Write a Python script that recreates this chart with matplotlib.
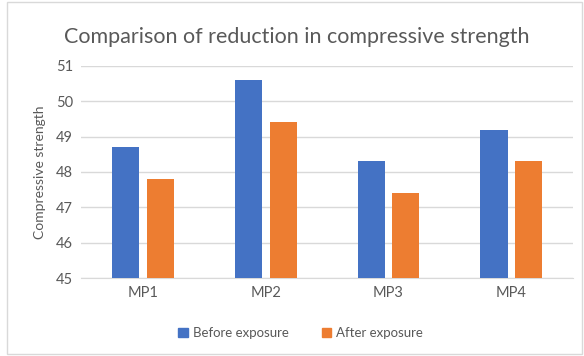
import numpy as np
import matplotlib
matplotlib.use("Agg")
import matplotlib.pyplot as plt
from matplotlib.patches import Rectangle, Patch

plt.rcParams['font.family'] = ['Lato', 'DejaVu Sans']

categories = ["MP1", "MP2", "MP3", "MP4"]
before = [48.7, 50.6, 48.3, 49.2]
after = [47.8, 49.4, 47.4, 48.3]
yticks = [45, 46, 47, 48, 49, 50, 51]

blue = "#4472C4"
orange = "#ED7D31"
grey = "#595959"

fig = plt.figure(figsize=(5.84, 3.56), dpi=100)
ax = fig.add_axes([0.139, 0.219, 0.842, 0.596])

x = np.arange(len(categories))
w = 0.22
off = 0.142
ax.bar(x - off, before, w, color=blue, label="Before exposure", zorder=3)
ax.bar(x + off, after, w, color=orange, label="After exposure", zorder=3)

ax.set_xlim(-0.5, len(categories) - 0.5)
ax.set_ylim(45, 51)
ax.set_yticks(yticks)
ax.set_xticks(x)
ax.set_xticklabels(categories)
ax.tick_params(axis='both', length=0, colors=grey, labelsize=10.5, pad=6)
ax.yaxis.grid(True, color="#D9D9D9", linewidth=1, zorder=0)
for s in ["top", "right", "left"]:
    ax.spines[s].set_visible(False)
ax.spines["bottom"].set_color("#D9D9D9")

ax.set_ylabel("Compressive strength", color=grey, fontsize=10, labelpad=7)
fig.text(0.508, 0.895, "Comparison of reduction in compressive strength",
         ha="center", va="center", color=grey, fontsize=15.5)

handles = [Patch(color=blue, label="Before exposure"), Patch(color=orange, label="After exposure")]
fig.legend(handles=handles, loc="center", bbox_to_anchor=(0.515, 0.065), ncol=2,
           frameon=False, fontsize=9.5, labelcolor=grey, handlelength=0.7,
           handleheight=0.7, columnspacing=2.5, handletextpad=0.4)

fig.patches.append(Rectangle((7 / 584, 0.005), 0.985, 0.99, transform=fig.transFigure,
                             fill=False, edgecolor="#D9D9D9", linewidth=1))

fig.savefig("out.png", dpi=100)
